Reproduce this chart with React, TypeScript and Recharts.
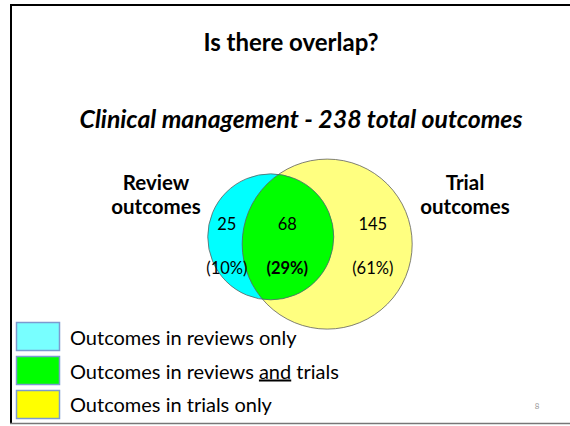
import { Scatter, ScatterChart, XAxis, YAxis, ZAxis } from "recharts";

const slideTitle = "Is there overlap?";
const topicName = "Clinical management";
const totalOutcomes = 238;

const setNames = ["Review outcomes", "Trial outcomes"];
const setTotals = [93, 213]; // 25 + 68, 68 + 145

const regionLabels = [
  "Outcomes in reviews only",
  "Outcomes in reviews and trials",
  "Outcomes in trials only",
];
const regionCounts = [25, 68, 145];
const regionShares = ["10%", "29%", "61%"];

// diagram layout, in axis units (0-100 both ways)
const setCentres = [
  { x: 47.5, y: 44.4 },
  { x: 57.4, y: 42.7 },
];
const regionColumns = [39.8, 50.4, 65.4];
const countRow = 45.9;
const shareRow = 35.7;

const FONT = "Lato, 'Open Sans', sans-serif";
const CYAN = "#00ffff";
const GREEN = "#00ff00";
const LIGHT_YELLOW = "#ffff80";
const legendFills = ["#78ffff", "#00ff00", "#ffff00"];

const reviewData = [{ ...setCentres[0], total: setTotals[0], name: setNames[0] }];
const trialData = [{ ...setCentres[1], total: setTotals[1], name: setNames[1] }];
const outlineData = [...trialData, ...reviewData];

const countData = regionCounts.map((count, i) => ({
  x: regionColumns[i],
  y: countRow,
  label: String(count),
  bold: false,
}));
const shareData = regionShares.map((share, i) => ({
  x: regionColumns[i],
  y: shareRow,
  label: `(${share})`,
  bold: i === 1,
}));

const radiusOf = (p: any) =>
  p.width ? p.width / 2 : Math.sqrt((p.size || 0) / Math.PI);

function TrialCircle(p: any) {
  const r = radiusOf(p);
  return (
    <g>
      <defs>
        <clipPath id="trialClip">
          <circle cx={p.cx} cy={p.cy} r={r} />
        </clipPath>
      </defs>
      <circle cx={p.cx} cy={p.cy} r={r} fill={LIGHT_YELLOW} />
    </g>
  );
}

function ReviewCircle(p: any) {
  const r = radiusOf(p);
  return (
    <g>
      <circle cx={p.cx} cy={p.cy} r={r} fill={CYAN} />
      <circle cx={p.cx} cy={p.cy} r={r} fill={GREEN} clipPath="url(#trialClip)" />
    </g>
  );
}

function Outline(p: any) {
  return (
    <circle
      cx={p.cx}
      cy={p.cy}
      r={radiusOf(p)}
      fill="none"
      stroke="#5f5f5f"
      strokeWidth={0.8}
    />
  );
}

function RegionText(p: any) {
  return (
    <text
      x={p.cx}
      y={p.cy}
      textAnchor="middle"
      fontFamily={FONT}
      fontSize={16.5}
      fontWeight={p.payload.bold ? 700 : 400}
      fill="#000"
    >
      {p.payload.label}
    </text>
  );
}

function LegendLabel({ text }: { text: string }) {
  const parts = text.split(" and ");
  if (parts.length < 2) return <>{text}</>;
  return (
    <>
      {parts[0] + " "}
      <tspan textDecoration="underline">and</tspan>
      {" " + parts[1]}
    </>
  );
}

export default function App() {
  return (
    <div
      style={{
        position: "absolute",
        left: 0,
        top: 0,
        width: 570,
        height: 426,
        background: "#fff",
      }}
    >
      <ScatterChart
        width={570}
        height={426}
        margin={{ top: 0, right: 0, bottom: 0, left: 0 }}
      >
        <XAxis type="number" dataKey="x" domain={[0, 100]} hide />
        <YAxis type="number" dataKey="y" domain={[0, 100]} hide />
        <ZAxis
          type="number"
          dataKey="total"
          domain={[93, 213]}
          range={[12469, 22698]}
        />
        <Scatter
          data={trialData}
          shape={(p: any) => <TrialCircle {...p} />}
          isAnimationActive={false}
        />
        <Scatter
          data={reviewData}
          shape={(p: any) => <ReviewCircle {...p} />}
          isAnimationActive={false}
        />
        <Scatter
          data={outlineData}
          shape={(p: any) => <Outline {...p} />}
          isAnimationActive={false}
        />
        <Scatter
          data={countData}
          shape={(p: any) => <RegionText {...p} />}
          isAnimationActive={false}
        />
        <Scatter
          data={shareData}
          shape={(p: any) => <RegionText {...p} />}
          isAnimationActive={false}
        />
      </ScatterChart>

      <svg
        width={570}
        height={426}
        style={{ position: "absolute", left: 0, top: 0, pointerEvents: "none" }}
        fontFamily={FONT}
      >
        <line x1={11} y1={4} x2={11} y2={424} stroke="#000" strokeWidth={2} />
        <line x1={10} y1={5} x2={570} y2={5} stroke="#000" strokeWidth={2} />
        <line x1={10} y1={423.5} x2={570} y2={423.5} stroke="#777" strokeWidth={1.5} />

        <text x={291} y={51} textAnchor="middle" fontSize={24} fontWeight={700}>
          {slideTitle}
        </text>
        <text
          x={301}
          y={128}
          textAnchor="middle"
          fontSize={24.8}
          fontWeight={700}
          fontStyle="italic"
        >
          {`${topicName} - ${totalOutcomes} total outcomes`}
        </text>

        {[156, 465].map((cx, i) => {
          const words = setNames[i].split(" ");
          return (
            <text key={i} textAnchor="middle" fontSize={20.5} fontWeight={700}>
              <tspan x={cx} y={190}>
                {words[0]}
              </tspan>
              <tspan x={cx} y={214}>
                {words[1]}
              </tspan>
            </text>
          );
        })}

        {regionLabels.map((label, i) => (
          <g key={label}>
            <rect
              x={16.5}
              y={322.5 + i * 34}
              width={43}
              height={28}
              fill={legendFills[i]}
              stroke="#7c9bd0"
              strokeWidth={1.5}
            />
            <text x={70} y={345 + i * 33.5} fontSize={20}>
              <LegendLabel text={label} />
            </text>
          </g>
        ))}

        <text x={537} y={409} fontSize={8} fill="#999" textAnchor="middle">
          8
        </text>
      </svg>
    </div>
  );
}
